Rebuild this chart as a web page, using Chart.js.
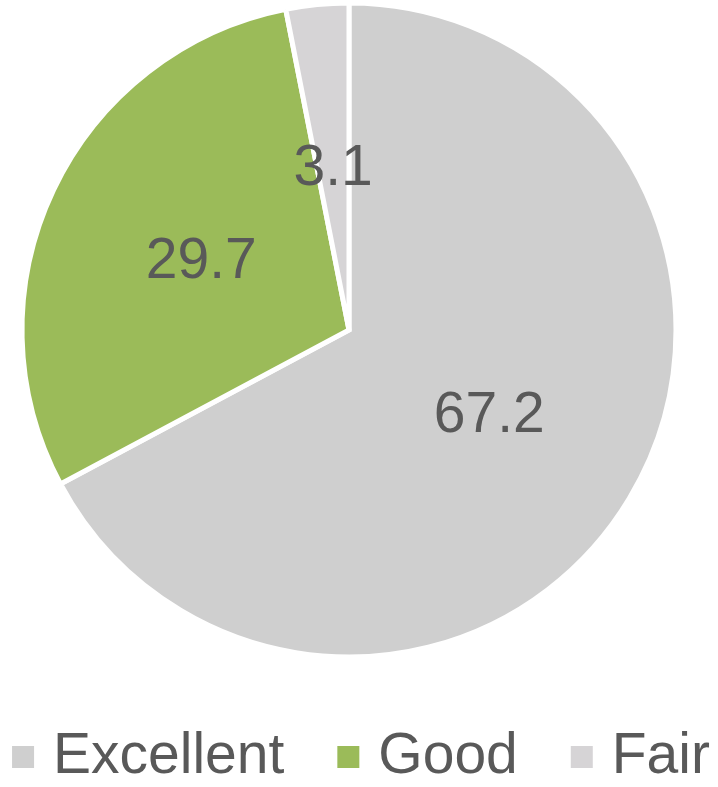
<!DOCTYPE html>
<html>
<head>
<meta charset="utf-8">
<script src="https://cdn.jsdelivr.net/npm/chart.js@4/dist/chart.umd.min.js"></script>
<style>
    html, body { margin: 0; padding: 0; background: #ffffff; }
    #wrap { width: 718px; height: 787px; }
</style>
</head>
<body>
<div id="wrap"><canvas id="ratingChart" width="718" height="787"></canvas></div>
<script>
const categories = ['Excellent', 'Good', 'Fair'];
const shares = [67.2, 29.7, 3.1];
const sliceColors = ['#cfcfcf', '#9bbb59', '#d6d4d6'];

const FONT = '"Liberation Sans", Arial, Helvetica, sans-serif';
const TEXT_COLOR = '#595959';

// value printed in the middle of every slice
const sliceLabels = {
    id: 'sliceLabels',
    afterDatasetsDraw(chart) {
        const ctx = chart.ctx;
        const meta = chart.getDatasetMeta(0);
        ctx.save();
        ctx.font = '57px ' + FONT;
        ctx.fillStyle = TEXT_COLOR;
        ctx.textAlign = 'center';
        ctx.textBaseline = 'middle';
        meta.data.forEach(function (arc, i) {
            const p = arc.getProps(['x', 'y', 'startAngle', 'endAngle', 'outerRadius'], true);
            const mid = (p.startAngle + p.endAngle) / 2;
            const r = p.outerRadius * 0.5;
            ctx.fillText(shares[i].toFixed(1), p.x + Math.cos(mid) * r, p.y + Math.sin(mid) * r + 2);
        });
        ctx.restore();
    }
};

// legend row under the pie: small square, then the name
const bottomLegend = {
    id: 'bottomLegend',
    afterDraw(chart) {
        const ctx = chart.ctx;
        const box = 22, gap = 19, itemGap = 53, y = 757;
        ctx.save();
        ctx.font = '57px ' + FONT;
        const widths = categories.map(c => ctx.measureText(c).width);
        let total = widths.reduce((a, b) => a + b, 0) + categories.length * (box + gap) + (categories.length - 1) * itemGap;
        let x = 361 - total / 2;
        ctx.textBaseline = 'middle';
        ctx.textAlign = 'left';
        categories.forEach(function (c, i) {
            ctx.fillStyle = sliceColors[i];
            ctx.fillRect(x, y - box / 2, box, box);
            x += box + gap;
            ctx.fillStyle = TEXT_COLOR;
            ctx.fillText(c, x, y);
            x += widths[i] + itemGap;
        });
        ctx.restore();
    }
};

const ctxRating = document.getElementById('ratingChart').getContext('2d');
new Chart(ctxRating, {
    type: 'pie',
    data: {
        labels: categories,
        datasets: [{
            data: shares,
            backgroundColor: sliceColors,
            borderColor: '#ffffff',
            borderWidth: 5,
            borderJoinStyle: 'miter'
        }]
    },
    options: {
        responsive: false,
        animation: false,
        radius: 327,
        layout: {
            padding: { left: 0, right: 20, top: 0, bottom: 127 }
        },
        plugins: {
            legend: { display: false },
            tooltip: { enabled: false }
        }
    },
    plugins: [sliceLabels, bottomLegend]
});
</script>
</body>
</html>
